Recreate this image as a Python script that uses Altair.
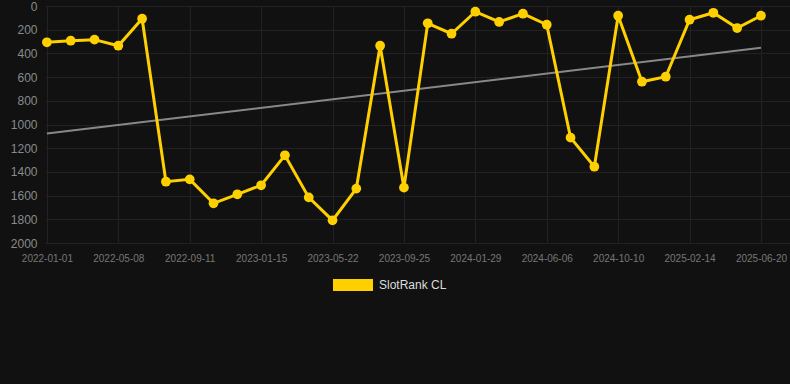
import altair as alt
import pandas as pd

# --- data ---
series_name = "SlotRank CL"
values = [306, 293, 284, 335, 107, 1483, 1463, 1665, 1589, 1513, 1260, 1615,
          1809, 1541, 335, 1533, 146, 234, 48, 135, 65, 158, 1111, 1356, 82,
          639, 597, 116, 57, 186, 82]
tick_labels = ["2022-01-01", "2022-05-08", "2022-09-11", "2023-01-15",
               "2023-05-22", "2023-09-25", "2024-01-29", "2024-06-06",
               "2024-10-10", "2025-02-14", "2025-06-20"]
y_ticks = [0, 200, 400, 600, 800, 1000, 1200, 1400, 1600, 1800, 2000]

df = pd.DataFrame({
    "idx": list(range(len(values))),
    "value": values,
    "series": [series_name] * len(values),
})

tick_idx = [i * 3 for i in range(len(tick_labels))]
label_arr = "[" + ",".join("'%s'" % t for t in tick_labels) + "]"

FONT = "Liberation Sans"
YELLOW = "#FFD000"

x_enc = alt.X(
    "idx:Q",
    scale=alt.Scale(domain=[-0.08, 31.22], nice=False, zero=False),
    axis=alt.Axis(
        values=tick_idx,
        labelExpr=label_arr + "[round(datum.value/3)]",
        title=None, grid=True, gridColor="#222222", gridWidth=1,
        ticks=False, domain=False, labelColor="#777777", labelFontSize=10,
        labelFont=FONT, labelPadding=10, labelFlush=False,
    ),
)
y_enc = alt.Y(
    "value:Q",
    scale=alt.Scale(domain=[0, 2000], reverse=True, nice=False),
    axis=alt.Axis(
        values=y_ticks, format="d", title=None, grid=True, gridColor="#222222",
        gridWidth=1, ticks=False, domain=False, labelColor="#8a8a8a",
        labelFontSize=12, labelFont=FONT, labelPadding=8,
    ),
)

color_enc = alt.Color(
    "series:N",
    scale=alt.Scale(domain=[series_name], range=[YELLOW]),
    legend=alt.Legend(
        title=None, orient="none", legendX=288, legendY=259,
        symbolType="M-1,-0.3H1V0.3H-1Z", symbolSize=1600,
        symbolStrokeWidth=0, symbolFillColor=YELLOW,
        labelColor="#dddddd", labelFontSize=12, labelFont=FONT,
        labelOffset=6,
    ),
)

base = alt.Chart(df)

trend = base.transform_regression("idx", "value").mark_line(
    color="#888888", strokeWidth=2
).encode(x=x_enc, y=y_enc)

line = base.mark_line(strokeWidth=3).encode(x=x_enc, y=y_enc, color=color_enc)
pts = base.mark_circle(size=95, opacity=1).encode(
    x=x_enc, y=y_enc, color=alt.Color("series:N", scale=alt.Scale(domain=[series_name], range=[YELLOW]), legend=None)
)

chart = alt.layer(trend, line, pts).properties(
    width=745, height=237,
    background="#111111",
    autosize=alt.AutoSizeParams(type="none"),
    padding={"left": 45, "top": 6, "right": 0, "bottom": 141},
).configure_view(stroke=None)

chart.save("out.html", embed_options={"renderer": "svg", "actions": False})
